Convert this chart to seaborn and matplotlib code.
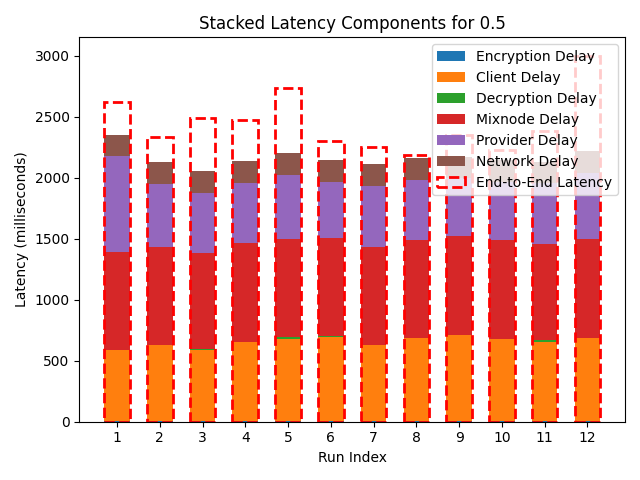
import numpy as np
import matplotlib
matplotlib.use("Agg")
import matplotlib.pyplot as plt
import seaborn as sns

# Values (milliseconds)
runs = [str(i) for i in range(1, 13)]
encryption = [3, 3, 4, 3, 3, 3, 3, 3, 4, 3, 3, 3]
client = [586, 627, 580, 651, 678, 695, 627, 684, 709, 676, 651, 684]
decryption = [1, 1, 12, 1, 12, 1, 1, 1, 1, 1, 12, 1]
mixnode = [803, 801, 787, 809, 804, 806, 801, 801, 809, 809, 790, 809]
provider = [783, 515, 491, 491, 523, 458, 499, 491, 473, 477, 502, 543]
network = [177, 180, 180, 180, 180, 180, 180, 180, 175, 177, 172, 180]
end_to_end = [2623, 2334, 2492, 2476, 2738, 2301, 2252, 2184, 2348, 2228, 2385, 3000]

components = [
    ("Encryption Delay", encryption, "#1f77b4"),
    ("Client Delay", client, "#ff7f0e"),
    ("Decryption Delay", decryption, "#2ca02c"),
    ("Mixnode Delay", mixnode, "#d62728"),
    ("Provider Delay", provider, "#9467bd"),
    ("Network Delay", network, "#8c564b"),
]

fig, ax = plt.subplots(figsize=(6.4, 4.8), dpi=100)

bottom = np.zeros(len(runs))
for name, vals, col in components:
    sns.barplot(x=runs, y=vals, bottom=bottom, color=col, saturation=1,
                width=0.6, linewidth=0, label=name, ax=ax)
    bottom = bottom + np.array(vals)

# end-to-end latency as a dashed outline
sns.barplot(x=runs, y=end_to_end, color="red", fill=False, width=0.6,
            linewidth=2, linestyle="--", label="End-to-End Latency", ax=ax)

ax.set_xlim(-0.88, 11.88)
ax.set_xlabel("Run Index")
ax.set_ylabel("Latency (milliseconds)")
ax.set_title("Stacked Latency Components for 0.5")
ax.legend(loc="upper right")

plt.tight_layout()
plt.savefig("out.png")
